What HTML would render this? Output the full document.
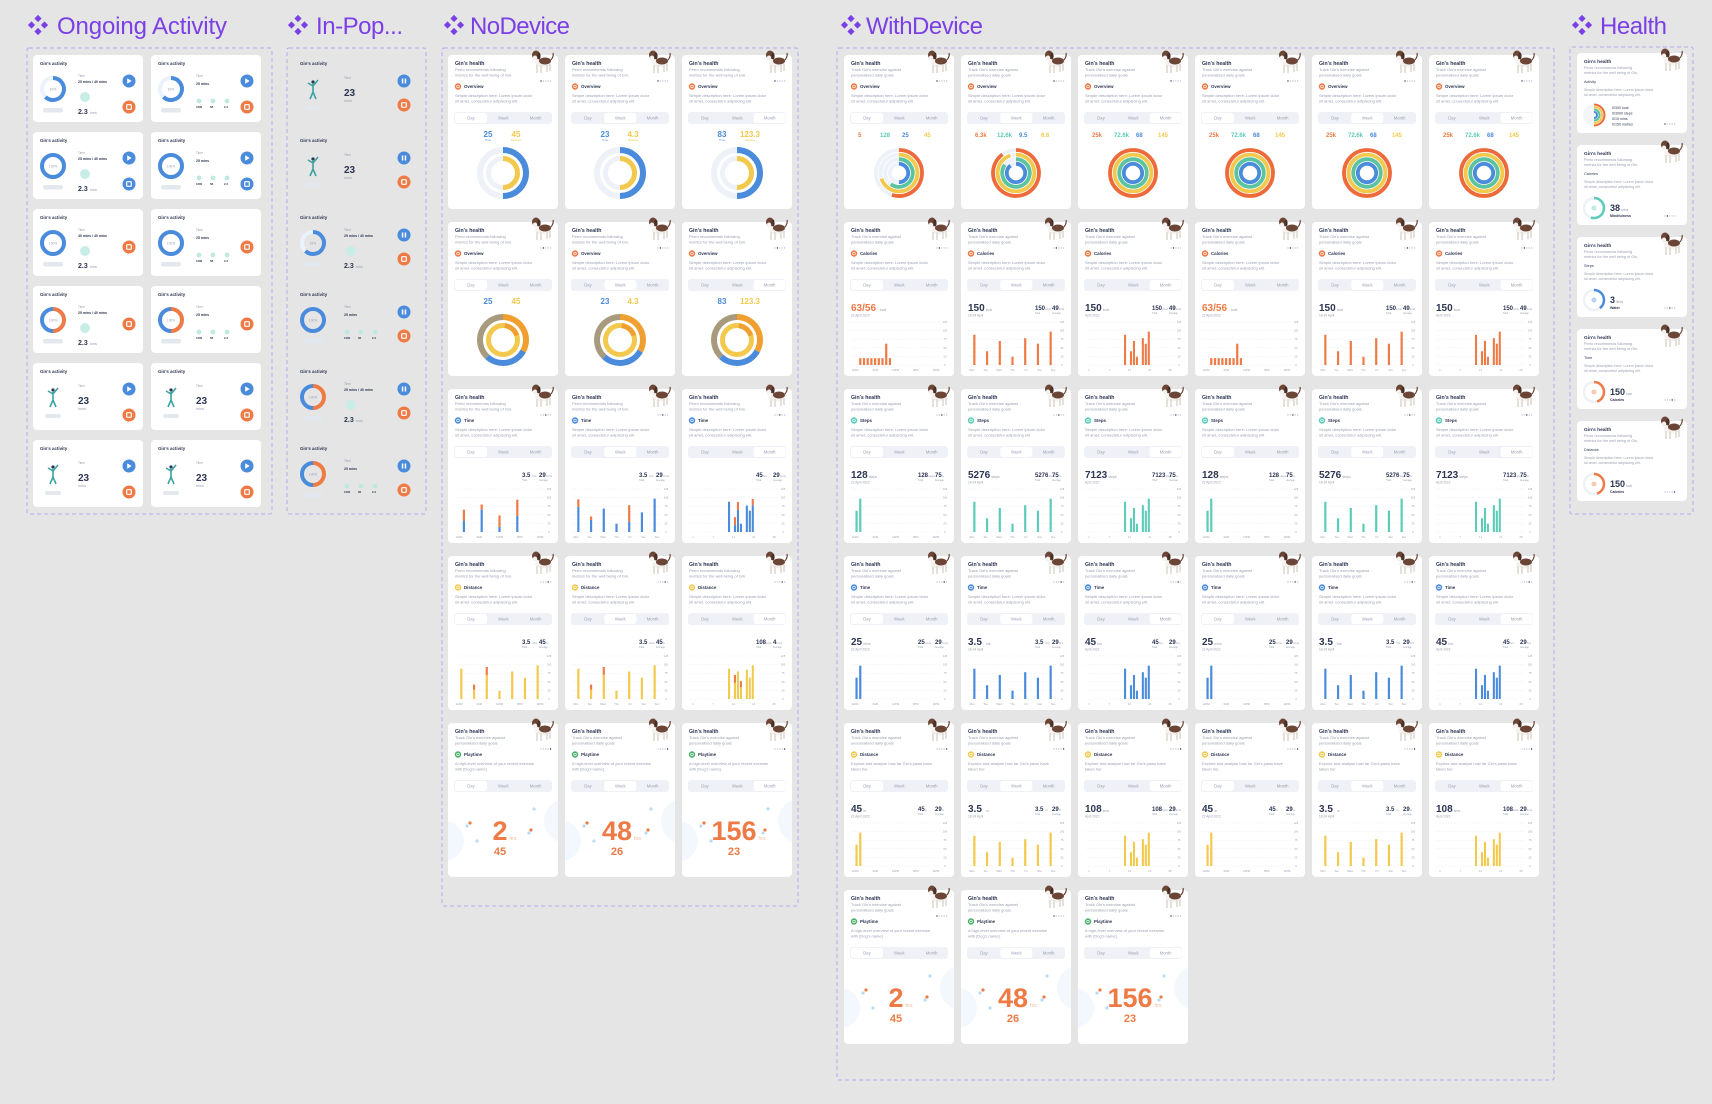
<!DOCTYPE html>
<html><head><meta charset="utf-8"><title>Pet health dashboard</title>
<style>
html,body{margin:0;padding:0;background:#e5e5e5;}
svg{display:block;font-family:"Liberation Sans",sans-serif;}
</style></head>
<body>
<svg id="canvas" width="1712" height="1104" viewBox="0 0 1712 1104" xmlns="http://www.w3.org/2000/svg">
<defs><clipPath id="cardclip" clipPathUnits="userSpaceOnUse"><rect x="0" y="0" width="110" height="154" rx="4"/></clipPath></defs>
<rect x="0" y="0" width="1712" height="1104" fill="#e5e5e5"/>
</svg>
<script>
// ---------- chart data ----------
const dayLabels = ['12AM','6AM','12PM','6PM','11PM'];
const weekLabels = ['Mon','Tue','Wed','Thu','Fri','Sat','Sun'];
const monthLabels = ['1','7','14','21','28'];
const axisTicks = ['0','25','50','75','100','125'];
const stepsDay = [0,62,97,0,0,0,0,0,0,0,0,0,0,0,0,0,0,0,0,0,0,0,0,0];
const caloriesDay = [0,0,20,20,20,20,20,20,20,62,20,0,0,0,0,0,0,0,0,0,0,0,0,0];
const stepsWeek = [88,40,70,24,78,62,97];
const stepsMonth = [0,0,0,0,0,0,0,0,0,0,0,0,0,88,0,40,70,24,0,78,62,97,0,0,0,0,0,0,0,0];
const timeDayBase = [32,65,15,47,0];
const timeDayTop = [33,15,33,47,0];
const timeWeekBase = [73,35,68,24,30,57,97];
const timeWeekTop = [22,10,0,0,48,0,0];
const timeMonthBase = [0,0,0,0,0,0,0,0,0,0,0,0,0,88,0,20,64,24,0,77,62,78,0,0,0,0,0,0,0,0];
const timeMonthTop = [0,0,0,0,0,0,0,0,0,0,0,0,0,0,0,23,23,0,0,0,0,18,0,0,0,0,0,0,0,0];
const distWeekBase = [88,27,70,24,80,62,98];
const distWeekTop = [0,15,23,0,0,0,0];
const distMonthBase = [0,0,0,0,0,0,0,0,0,0,0,0,0,88,0,47,80,34,0,85,62,98,0,0,0,0,0,0,0,0];
const distMonthTop = [0,0,0,0,0,0,0,0,0,0,0,0,0,0,0,23,0,18,0,0,0,0,0,0,0,0,0,0,0,0];
const overviewOuter = [0.5,0.5,0.5];
const overviewInner = [0.5,0.5,0.5];
const ringFractions = [[0.55,0.7,0.6,0.5],[0.9,0.95,0.85,0.9],[1,1,1,1],[1,1,1,1],[1,1,1,1],[1,1,1,1]];
const playHours = ['2','48','156'];
const playMins = ['45','26','23'];

// ---------- helpers ----------
const NS='http://www.w3.org/2000/svg';
const root=document.getElementById('canvas');
const C={blue:'#4a8bdc',orange:'#ee7a45',yellow:'#f2c94c',teal:'#5ccbb8',green:'#4caf6a',dark:'#2d3652',grey:'#9aa0b2',light:'#eff1f6',purple:'#7b3fe6'};
function mk(tag,attrs,parent){const e=document.createElementNS(NS,tag);for(const k in attrs)e.setAttribute(k,attrs[k]);(parent||root).appendChild(e);return e;}
function T(g,x,y,s,size,fill,weight,anchor){const t=mk('text',{x:x,y:y,'font-size':size,fill:fill||C.dark,'font-weight':weight||'normal','text-anchor':anchor||'start'},g);t.textContent=s;return t;}
function arc(g,cx,cy,r,f0,f1,color,w){
  if(f1-f0>=0.999){return mk('circle',{cx:cx,cy:cy,r:r,fill:'none',stroke:color,'stroke-width':w},g);}
  const a0=f0*2*Math.PI-Math.PI/2,a1=f1*2*Math.PI-Math.PI/2;
  const d='M'+(cx+r*Math.cos(a0))+' '+(cy+r*Math.sin(a0))+' A'+r+' '+r+' 0 '+((f1-f0)>0.5?1:0)+' 1 '+(cx+r*Math.cos(a1))+' '+(cy+r*Math.sin(a1));
  return mk('path',{d:d,fill:'none',stroke:color,'stroke-width':w},g);
}
function diamond(x,y,name){
  const g=mk('g',{transform:'translate('+x+','+y+')'});
  
  
  [[10,3.5],[3.5,10],[16.5,10],[10,16.5]].forEach(p=>mk('polygon',{points:(p[0])+','+(p[1]-3.6)+' '+(p[0]+3.6)+','+p[1]+' '+p[0]+','+(p[1]+3.6)+' '+(p[0]-3.6)+','+p[1],fill:C.purple},g));
}
function title(ix,tx,tw,s,name){
  diamond(ix,15,name+'-icon');
  const t=T(root,tx,34,s,24,C.purple,'normal');
  t.setAttribute('textLength',tw);
  
  
}
function frame(x,y,w,h,name){
  const r=mk('rect',{x:x,y:y,width:w,height:h,rx:2,fill:'none',stroke:'#b9a6f0','stroke-width':1,'stroke-dasharray':'4 3'});
  
  
}
function card(x,y,w,h,name,bg){
  const g=mk('g',{transform:'translate('+x+','+y+')'});
  
  
  if(bg!==false)mk('rect',{x:0,y:0,width:w,height:h,rx:4,fill:'#fff'},g);
  return g;
}
function dog(g,x,y){
  const d=mk('g',{transform:'translate('+x+','+y+')'},g);
  
  
  mk('ellipse',{cx:11,cy:13,rx:8,ry:4.5,fill:'#f4f1ee'},d);
  mk('ellipse',{cx:13,cy:11,rx:6,ry:3.5,fill:'#6b4536'},d);
  mk('rect',{x:4,y:15,width:2,height:8,fill:'#e6e0da'},d);
  mk('rect',{x:8,y:15,width:2,height:8,fill:'#e6e0da'},d);
  mk('rect',{x:14,y:15,width:2,height:7,fill:'#e6e0da'},d);
  mk('rect',{x:17,y:14,width:2,height:7,fill:'#e6e0da'},d);
  mk('ellipse',{cx:4,cy:5,rx:4,ry:4.5,fill:'#6b4536'},d);
  mk('ellipse',{cx:3,cy:8,rx:2.2,ry:2.5,fill:'#f4f1ee'},d);
  mk('ellipse',{cx:7,cy:6,rx:1.6,ry:3.5,fill:'#4a2f25'},d);
  mk('path',{d:'M19 10 q3 -4 2 -7',stroke:'#6b4536','stroke-width':1.2,fill:'none'},d);
}
function dots(g,x,y,active){
  for(let i=0;i<5;i++)mk('circle',{cx:x+i*2.4,cy:y,r:0.7,fill:i===active?C.dark:'#c2c6d2'},g);
}
function header(g,sub,label,color,desc,sel,active){
  T(g,7,10,"Gin's health",5.2,C.dark,'bold');
  T(g,7,16,sub[0],4,C.grey);T(g,7,21.5,sub[1],4,C.grey);
  dog(g,84,-5);dots(g,93,26,active);
  const ic=mk('circle',{cx:10,cy:31.5,r:3.2,fill:color},g);
  
  
  mk('circle',{cx:10,cy:31.5,r:1.3,fill:'none',stroke:'#fff','stroke-width':0.7},g);
  T(g,16,33.2,label,4.4,C.dark,'bold');
  T(g,7,42,desc[0],4,C.grey);T(g,7,47.5,desc[1],4,C.grey);
  const seg=mk('g',{},g);
  
  
  mk('rect',{x:6,y:57,width:98,height:12,rx:3,fill:C.light},seg);
  mk('rect',{x:7+sel*32.3,y:58,width:32,height:10,rx:2.5,fill:'#fff'},seg);
  ['Day','Week','Month'].forEach((s,i)=>{const t=T(seg,23+i*32.3,64.6,s,4.2,C.grey,'normal','middle');
    
    });
}
function barChart(g,base,top,labels,c1,c2){
  const x0=7,x1=96,y0=100,y1=143,n=base.length,sw=(x1-x0)/n;
  const ch=mk('g',{},g);
  
  
  for(let i=0;i<axisTicks.length;i++){const yy=y1-(y1-y0)*i/(axisTicks.length-1);
    mk('line',{x1:x0,x2:x1,y1:yy,y2:yy,stroke:'#e3e6ee','stroke-width':0.4,'stroke-dasharray':'1.5 1.5'},ch);
    T(ch,101,yy+1,axisTicks[i],2.6,C.grey,'normal','middle');}
  const ys=v=>(y1-y0)*v/125;
  const bw=Math.min(2.2,sw*0.7);
  for(let i=0;i<n;i++){const cx=x0+(i+0.5)*sw;
    if(base[i]>0){const b=mk('rect',{x:cx-bw/2,y:y1-ys(base[i]),width:bw,height:ys(base[i]),fill:c1},ch);
      
      }
    if(top&&top[i]>0){const b=mk('rect',{x:cx-bw/2,y:y1-ys(base[i]+top[i]),width:bw,height:ys(top[i]),fill:c2},ch);
      
      }
  }
  labels.forEach((l,i)=>T(ch,x0+4+(x1-x0-8)*i/(labels.length-1),149,l,2.6,C.grey,'normal','middle'));
}
function bigNum(g,num,unit,date,color){
  T(g,7,89,num,10,color||C.dark,'bold');
  T(g,8+num.length*5.6,89,unit,3.5,C.grey);
  T(g,7,94.5,date,3.2,C.grey);
}
function sideStats(g,a,ua,b,ub){
  T(g,74,88,a,6,C.dark,'bold');T(g,74+a.length*3.4,88,ua,3,C.grey);
  T(g,74,92,'Total',2.4,C.grey);
  T(g,91,88,b,6,C.dark,'bold');T(g,91+b.length*3.4,88,ub,3,C.grey);
  T(g,91,92,'Average',2.4,C.grey);
}
const descA=['Simple description here: Lorem ipsum dolor','sit amet, consectetur adipiscing elit.'];
const subN=['Perro recommends following','metrics for the well being of Gin.'];
const subW=["Track Gin's exercise against",'personalised daily goals'];
const distDesc=["Explore and analyse how far Gin's paws have",'taken her.'];
const playDesc=['A high-level overview of your recent exercise','with [Dog\'s name].'];

// ---------- titles & frames ----------
title(28,57,170,'Ongoing Activity','ongoing-activity-title');
title(288,316,87,'In-Pop...','in-pop-title');
title(444,470,100,'NoDevice','nodevice-title');
title(841,866,117,'WithDevice','withdevice-title');
title(1572,1600,67,'Health','health-title');
frame(27,48,245,466,'ongoing-activity-frame');
frame(287,48,139,466,'in-pop-frame');
frame(442,48,356,858,'nodevice-frame');
frame(837,48,717,1032,'withdevice-frame');
frame(1570,47,123,467,'health-frame');

// ---------- activity widgets ----------
function figure(g,x,y){
  const f=mk('g',{transform:'translate('+x+','+y+')'},g);
  
  
  mk('circle',{cx:0,cy:-9,r:1.6,fill:'#2d3652'},f);
  mk('path',{d:'M0 -7 L0 1 M0 -5 L-5 -8 M0 -5 L5 -11 M0 1 L-3 8 M0 1 L3 8',stroke:'#3ba3a0','stroke-width':1.6,fill:'none'},f);
  mk('rect',{x:-8,y:15,width:16,height:4,rx:2,fill:'#e3e7ee'},f);
}
function btn(g,x,y,color,kind){
  const b=mk('g',{},g);
  
  
  mk('circle',{cx:x,cy:y,r:6.5,fill:color},b);
  if(kind==='play')mk('path',{d:'M'+(x-1.8)+' '+(y-2.8)+' l4.5 2.8 l-4.5 2.8z',fill:'#fff'},b);
  else if(kind==='pause'){mk('rect',{x:x-2.2,y:y-2.5,width:1.5,height:5,fill:'#fff'},b);mk('rect',{x:x+0.7,y:y-2.5,width:1.5,height:5,fill:'#fff'},b);}
  else mk('rect',{x:x-2.3,y:y-2.3,width:4.6,height:4.6,rx:0.8,fill:'none',stroke:'#fff','stroke-width':1.2},b);
}
function activity(g,j,c,tx){
  T(g,7,10,"Gin's activity",4.4,C.dark,'bold');
  if(j<4){
    const col=j===3?C.orange:C.blue;
    mk('circle',{cx:20,cy:34,r:11,fill:'none',stroke:'#eaf2fb','stroke-width':4},g);
    const fr=j===0?0.62:1;
    if(j===3){arc(g,20,34,11,0,0.5,C.orange,4);arc(g,20,34,11,0.5,1,C.blue,4);}
    else {const a=arc(g,20,34,11,0,fr,col,4);}
    T(g,20,35.3,j===0?'62%':'100%',3.2,C.grey,'normal','middle');
    mk('rect',{x:10,y:53,width:20,height:4.5,rx:2.2,fill:'#e3e7ee'},g);
    T(g,tx,22,'Time',3.2,C.grey);
    if(c===0){T(g,tx,28,j===2?'40 mins / 40 mins':'25 mins / 40 mins',3.5,C.dark,'bold');
      mk('circle',{cx:tx+7,cy:42,r:5,fill:'#c8ece6'},g);
      T(g,tx,59,'2.3',7,C.dark,'bold');T(g,tx+12,59,'kms',3.8,C.grey);}
    else {T(g,tx,30,'25 mins',3.5,C.dark,'bold');
      [0,1,2].forEach(k=>{mk('circle',{cx:tx+3+k*14,cy:46,r:2.4,fill:'#bfe9e1'},g);T(g,tx+k*14,53,['1280','58','2.3'][k],2.8,C.dark,'bold');});}
  } else {
    figure(g,20,36);
    T(g,tx,24,'Time',3.2,C.grey);
    T(g,tx,41,'23',10,C.dark,'bold');
    T(g,tx,47,'mins',3.8,C.grey);
  }
}
// Ongoing activity cards
for(let j=0;j<6;j++)for(let c=0;c<2;c++){
  const g=card(33+118*c,55+77*j,110,67,'ongoing-activity-card');
  activity(g,j,c,45);
  if(j===2||j===3)btn(g,96,38,C.orange,'delete');
  else {btn(g,96,26,C.blue,'play');btn(g,96,52,j===1?C.blue:C.orange,j===1?'save':'stop');}
}
// In-pop rows
for(let j=0;j<6;j++){
  const g=card(293,55+77*j,120,67,'in-pop-activity',false);
  const jj=[4,5,0,1,3,3][j];
  activity(g,jj,j===3||j===5?1:0,51);
  btn(g,111,26,C.blue,'pause');btn(g,111,50,C.orange,'stop');
}

// ---------- chart cards ----------
function overviewSemi(g,i){
  T(g,40,82,['25','23','83'][i],8,C.blue,'bold','middle');T(g,40,86,'Time',2.6,C.blue,'normal','middle');
  T(g,68,82,['45','4.3','123.3'][i],8,C.yellow,'bold','middle');T(g,68,86,'Distance',2.6,C.yellow,'normal','middle');
  mk('circle',{cx:55,cy:118,r:23,fill:'none',stroke:'#eef2f8','stroke-width':6},g);
  mk('circle',{cx:55,cy:118,r:14.5,fill:'none',stroke:'#eef2f8','stroke-width':5},g);
  const a=arc(g,55,118,23,0,overviewOuter[i],C.blue,6);
  const b=arc(g,55,118,14.5,0,overviewInner[i],C.yellow,5);
}
function overviewFull(g,i){
  T(g,40,82,['25','23','83'][i],8,C.blue,'bold','middle');
  T(g,68,82,['45','4.3','123.3'][i],8,C.yellow,'bold','middle');
  arc(g,55,118,23,0,0.33,'#f0a030',6);arc(g,55,118,23,0.33,0.62,C.blue,6);arc(g,55,118,23,0.62,1,'#a89a7c',6);
  mk('circle',{cx:55,cy:118,r:14.5,fill:'none',stroke:C.yellow,'stroke-width':5},g);
  arc(g,55,118,14.5,0.02,0.2,'#f0a030',5);
}
function rings(g,i){
  const vals=[['5','128','25','45'],['6.3k','12.6k','9.5','6.6'],['25k','72.6k','68','145'],['25k','72.6k','68','145'],['25k','72.6k','68','145'],['25k','72.6k','68','145']][i];
  const cols=[C.orange,C.teal,C.blue,C.yellow];
  vals.forEach((v,k)=>T(g,14+k*22,82,v,6,cols[k],'bold','start'));
  const rc=['#ee6a3a','#f2c94c','#5cc3a0','#4a8bdc'];
  for(let k=0;k<4;k++){mk('circle',{cx:55,cy:118,r:23-k*4.6,fill:'none',stroke:'#eef2f8','stroke-width':3.8},g);
    const a=arc(g,55,118,23-k*4.6,0,ringFractions[i][k],rc[k],3.8);
    
    }
}
function play(g,i){
  const p=mk('g',{'clip-path':'url(#cardclip)'},g);
  mk('circle',{cx:-4,cy:118,r:20,fill:'#f2f8fe'},p);
  mk('circle',{cx:118,cy:98,r:22,fill:'#f4f8fc'},p);
  [[22,100,C.orange],[19,103,'#b9dcf5'],[29,118,'#b9dcf5'],[83,107,C.orange],[81,110,'#b9dcf5'],[86,86,'#b9dcf5']].forEach(q=>mk('circle',{cx:q[0],cy:q[1],r:1.6,fill:q[2]},p));
  const h=T(p,52,117,playHours[i],27,C.orange,'bold','middle');
  
  
  T(p,52+playHours[i].length*7.5+2,117,'hrs',5,'#f3b99b');
  T(p,52,132,playMins[i],11,C.orange,'bold','middle');
}
// NoDevice
for(let j=0;j<5;j++)for(let i=0;i<3;i++){
  const g=card(448+117*i,55+167*j,110,154,'nodevice-card');
  const lab=['Overview','Overview','Time','Distance','Playtime'][j];
  const col=[C.orange,C.orange,C.blue,C.yellow,C.green][j];
  header(g,j===4?subW:subN,lab,col,j===4?playDesc:descA,i,j);
  if(j===0)overviewSemi(g,i);
  else if(j===1)overviewFull(g,i);
  else if(j===2){sideStats(g,i===2?'45':'3.5','hrs','29','mins');
    if(i===0)barChart(g,timeDayBase,timeDayTop,dayLabels,C.blue,C.orange);
    else if(i===1)barChart(g,timeWeekBase,timeWeekTop,weekLabels,C.blue,C.orange);
    else barChart(g,timeMonthBase,timeMonthTop,monthLabels,C.blue,C.orange);}
  else if(j===3){sideStats(g,i===2?'108':'3.5','kms',i===2?'4':'45',i===2?'kms':'m');
    if(i<2)barChart(g,distWeekBase,distWeekTop,i===0?dayLabels:weekLabels,C.yellow,C.orange);
    else barChart(g,distMonthBase,distMonthTop,monthLabels,C.yellow,C.orange);}
  else play(g,i);
}
// WithDevice
for(let j=0;j<6;j++)for(let i=0;i<6;i++){
  if(j===5&&i>2)continue;
  const g=card(844+117*i,55+167*j,110,154,'withdevice-card');
  const t=i%3;
  const lab=['Overview','Calories','Steps','Time','Distance','Playtime'][j];
  const col=[C.orange,C.orange,C.teal,C.blue,C.yellow,C.green][j];
  header(g,subW,lab,col,j===4?distDesc:(j===5?playDesc:descA),t,j%5);
  if(j===0)rings(g,i);
  else if(j===5)play(g,t);
  else {
    const ser={1:[caloriesDay,stepsWeek,stepsMonth,C.orange],2:[stepsDay,stepsWeek,stepsMonth,C.teal],3:[stepsDay,stepsWeek,stepsMonth,C.blue],4:[stepsDay,stepsWeek,stepsMonth,C.yellow]}[j];
    const nums={1:['63/56','150','150'],2:['128','5276','7123'],3:['25','3.5','45'],4:['45','3.5','108']}[j];
    const units={1:'kcal',2:'steps',3:t===0?'mins':'hrs',4:t===2?'kms':'m'}[j];
    bigNum(g,nums[t],units,['22 April 2022','18-24 April','April 2022'][t],j===1&&t===0?C.orange:C.dark);
    if(t>0||j!==1)sideStats(g,nums[t].split('/')[0],units,j===1?'49':(j===2?'75':'29'),j===2?'m':units);
    barChart(g,ser[t],null,[dayLabels,weekLabels,monthLabels][t],ser[3],null);
  }
}
// Health
const hLabels=['Activity','Calories','Steps','Time','Distance'];
const hNums=['','38','3','150','150'],hUnits=['','mins','litres','kcal','kcal'],hNames=['','Mindfulness','Water','Calories','Calories'];
const hCols=['',C.teal,C.blue,C.orange,C.orange],hFrac=[0,0.55,0.4,0.45,0.45];
for(let j=0;j<5;j++){
  const g=card(1577,53+92*j,110,80,'health-card');
  T(g,7,10,"Gin's health",4.8,C.dark,'bold');
  T(g,7,16,subN[0],3.8,C.grey);T(g,7,21,subN[1],3.8,C.grey);
  dog(g,84,-5);
  T(g,7,30,hLabels[j],3.8,C.dark);
  T(g,7,38,descA[0],3.6,C.grey);T(g,7,43,descA[1],3.6,C.grey);
  dots(g,88,71,j);
  if(j===0){
    mk('circle',{cx:17,cy:62,r:11,fill:'#f3f5f9'},g);
    ['#ee6a3a','#f2c94c','#5cc3a0','#4a8bdc'].forEach((c,k)=>arc(g,17,62,10.5-k*2.5,0,0.5,c,2));
    ['0/300 kcal','0/3000 steps','0/15 mins','0/150 metres'].forEach((s,k)=>T(g,35,56+k*5.5,s,3.6,C.dark));
  } else {
    mk('circle',{cx:17,cy:63,r:10,fill:'none',stroke:'#eef1f6','stroke-width':2.5},g);
    const a=arc(g,17,63,10,0,hFrac[j],hCols[j],2.5);
    
    
    mk('circle',{cx:17,cy:63,r:2.5,fill:hCols[j],opacity:0.4},g);
    T(g,33,66,hNums[j],9,C.dark,'bold');
    T(g,33+hNums[j].length*5+1,66,hUnits[j],3.4,C.grey);
    T(g,33,72,hNames[j],3.6,C.dark,'bold');
  }
}
</script>
</body></html>
